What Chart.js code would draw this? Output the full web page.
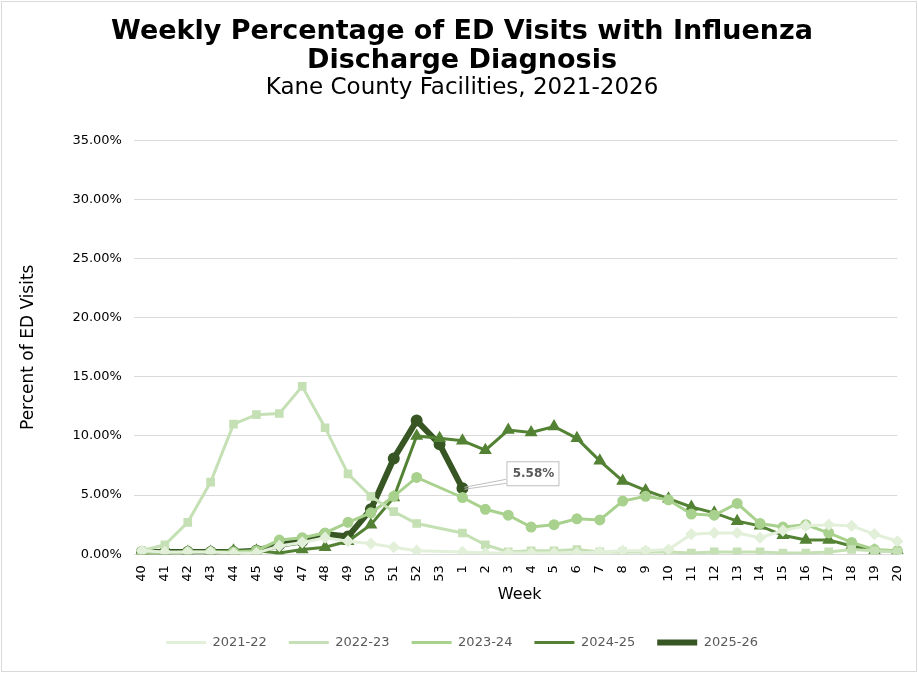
<!DOCTYPE html>
<html>
<head>
<meta charset="utf-8">
<script src="https://cdn.jsdelivr.net/npm/chart.js@4"></script>
<style>
  body { margin: 0; background: #fff; }
  #wrap { position: absolute; left: 1px; top: 1px; width: 914px; height: 669px; border: 1px solid #d9d9d9; }
</style>
</head>
<body>
<div id="wrap"><canvas id="flu"></canvas></div>
<script>
/* ---------- data ---------- */
const weeks = ["40","41","42","43","44","45","46","47","48","49","50","51","52","53",
  "1","2","3","4","5","6","7","8","9","10","11","12","13","14","15","16","17","18","19","20"];

const s2122 = [0.3,0.2,0.2,0.2,0.1,0.1,0.7,1.0,1.4,1.1,0.9,0.6,0.3,null,
  0.2,0.1,0.1,0.1,0.1,0.1,0.2,0.3,0.3,0.4,1.7,1.8,1.8,1.4,2.0,2.4,2.5,2.4,1.7,1.1];
const s2223 = [0.3,0.8,2.7,6.1,11.0,11.8,11.9,14.2,10.7,6.8,4.9,3.6,2.6,null,
  1.8,0.8,0.2,0.3,0.3,0.4,0.2,0.2,0.2,0.2,0.1,0.2,0.2,0.2,0.1,0.1,0.2,0.4,0.3,0.2];
const s2324 = [0.2,0.1,0.2,0.2,0.2,0.3,1.2,1.4,1.8,2.7,3.5,4.9,6.5,null,
  4.8,3.8,3.3,2.3,2.5,3.0,2.9,4.5,4.9,4.6,3.4,3.3,4.3,2.6,2.3,2.5,1.8,1.0,0.4,0.3];
const s2425 = [0.1,0.1,0.2,0.2,0.3,0.3,0.1,0.4,0.6,1.1,2.5,4.8,10.0,9.8,
  9.6,8.8,10.5,10.3,10.8,9.8,7.9,6.2,5.4,4.7,4.0,3.5,2.8,2.4,1.6,1.2,1.2,0.7,0.3,0.3];
const s2526 = [0.2,0.2,0.2,0.2,0.2,0.3,0.8,1.1,1.7,1.5,3.8,8.1,11.3,9.3,5.58];

const yTicks = [0,5,10,15,20,25,30,35];

/* ---------- callout for last value ---------- */
const callout = {
  id: "callout",
  afterDatasetsDraw(chart) {
    const meta = chart.getDatasetMeta(4);
    const pt = meta.data[s2526.length - 1];
    const ctx = chart.ctx;
    const bx = pt.x + 44, by = pt.y - 27, bw = 52, bh = 24;
    ctx.save();
    ctx.strokeStyle = "#bfbfbf";
    ctx.lineWidth = 1;
    ctx.beginPath();
    ctx.moveTo(pt.x + 2, pt.y - 1);
    ctx.lineTo(bx, by + bh - 6);
    ctx.moveTo(pt.x + 2, pt.y + 1);
    ctx.lineTo(bx, by + bh - 2);
    ctx.stroke();
    ctx.fillStyle = "#fff";
    ctx.fillRect(bx, by, bw, bh);
    ctx.strokeRect(bx + 0.5, by + 0.5, bw, bh);
    ctx.fillStyle = "#595959";
    ctx.font = "bold 12px 'DejaVu Sans'";
    ctx.textAlign = "center";
    ctx.textBaseline = "middle";
    ctx.fillText(s2526[s2526.length - 1].toFixed(2) + "%", bx + bw / 2 + 1, by + bh / 2 + 1);
    ctx.restore();
  }
};

function series(label, data, color, style, width, radius) {
  return {
    label, data,
    borderColor: color, backgroundColor: color,
    borderWidth: width, pointStyle: style,
    pointRadius: radius, pointHoverRadius: radius,
    spanGaps: true, tension: 0
  };
}

new Chart(document.getElementById("flu"), {
  type: "line",
  data: {
    labels: weeks,
    datasets: [
      series("2021-22", s2122, "#e2efd9", "rectRot", 3, 4),
      series("2022-23", s2223, "#c5e0b4", "rect", 3, 4),
      series("2023-24", s2324, "#a9d18e", "circle", 3, 4),
      series("2024-25", s2425, "#548235", "triangle", 3, 4.5),
      series("2025-26", s2526, "#375623", "circle", 6, 3)
    ]
  },
  plugins: [callout],
  options: {
    responsive: true,
    maintainAspectRatio: false,
    animation: false,
    layout: { padding: { left: 12, right: 6, top: 8, bottom: 12 } },
    font: { family: "'DejaVu Sans'" },
    plugins: {
      title: {
        display: true,
        text: ["Weekly Percentage of ED Visits with Influenza", "Discharge Diagnosis"],
        color: "#000",
        font: { family: "'DejaVu Sans'", size: 27, weight: "bold", lineHeight: 1.05 },
        padding: { top: 8, bottom: 0 }
      },
      subtitle: {
        display: true,
        text: "Kane County Facilities, 2021-2026",
        color: "#000",
        font: { family: "'DejaVu Sans'", size: 23 },
        padding: { top: 0, bottom: 38 }
      },
      legend: {
        position: "bottom",
        labels: {
          color: "#595959",
          font: { family: "'DejaVu Sans'", size: 13 },
          boxWidth: 40, boxHeight: 0, padding: 22,
          generateLabels(chart) {
            return chart.data.datasets.map((d, i) => ({
              text: d.label, fillStyle: d.backgroundColor, strokeStyle: d.borderColor,
              lineWidth: d.borderWidth, datasetIndex: i, fontColor: "#595959"
            }));
          }
        }
      },
      tooltip: { enabled: false }
    },
    scales: {
      x: {
        title: { display: true, text: "Week", color: "#000", font: { family: "'DejaVu Sans'", size: 16 }, padding: { top: 0, bottom: 10 } },
        grid: { display: false },
        border: { color: "#d9d9d9" },
        ticks: { color: "#000", maxRotation: 90, minRotation: 90, autoSkip: false, font: { family: "'DejaVu Sans'", size: 13 } }
      },
      y: {
        min: 0, max: 35,
        afterBuildTicks(axis) { axis.ticks = yTicks.map(v => ({ value: v })); },
        title: { display: true, text: "Percent of ED Visits", color: "#000", font: { family: "'DejaVu Sans'", size: 17 }, padding: { bottom: 22 } },
        grid: { color: "#d9d9d9" },
        border: { display: false },
        ticks: { color: "#000", padding: 12, font: { family: "'DejaVu Sans'", size: 13 }, callback: v => v.toFixed(2) + "%" }
      }
    }
  }
});
</script>
</body>
</html>
